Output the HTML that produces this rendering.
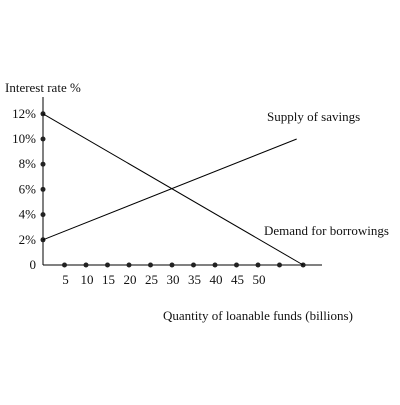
<!DOCTYPE html>
<html><head><style>
body{margin:0;background:#fff}
svg text{font-family:"Liberation Serif",serif;font-size:13px;fill:#111}
</style></head><body>
<svg width="400" height="400">
<text x="5" y="92">Interest rate %</text>
<text x="163" y="320">Quantity of loanable funds (billions)</text>
<g id="g"></g>
</svg>
<script>
const yTicks=[0,2,4,6,8,10,12];
const yLabels=["0","2%","4%","6%","8%","10%","12%"];
const xTicks=[5,10,15,20,25,30,35,40,45,50];
const xDots=[5,10,15,20,25,30,35,40,45,50,55,60.5];
const supplyX=[0,59];const supplyY=[2,10];
const demandX=[0,60.5];const demandY=[12,0];
const sx=v=>43+v*4.3, sy=v=>265-v*12.6;
const g=document.getElementById('g'),NS="http://www.w3.org/2000/svg";
function mk(t,a){const e=document.createElementNS(NS,t);for(const k in a)e.setAttribute(k,a[k]);g.appendChild(e);return e;}
let e=mk('line',{x1:43,y1:97,x2:43,y2:265,stroke:'#000'});


e=mk('line',{x1:43,y1:265,x2:322,y2:265,stroke:'#000'});


yTicks.forEach((v,i)=>{
 const t=mk('text',{x:36,y:sy(v)+4,'text-anchor':'end'});t.textContent=yLabels[i];
 
 
 if(v>0){const c=mk('circle',{cx:43,cy:sy(v),r:2.5,fill:'#222'});
 
 }
});
xTicks.forEach(v=>{
 const t=mk('text',{x:sx(v)+1,y:284,'text-anchor':'middle'});t.textContent=v;
 
 
});
xDots.forEach(v=>{
 const c=mk('circle',{cx:sx(v),cy:265,r:2.5,fill:'#222'});
 
 
});
e=mk('line',{x1:sx(supplyX[0]),y1:sy(supplyY[0]),x2:sx(supplyX[1]),y2:sy(supplyY[1]),stroke:'#000'});


e=mk('line',{x1:sx(demandX[0]),y1:sy(demandY[0]),x2:sx(demandX[1]),y2:sy(demandY[1]),stroke:'#000'});


let t=mk('text',{x:267,y:121});t.textContent='Supply of savings';


t=mk('text',{x:264,y:235});t.textContent='Demand for borrowings';


</script>
</body></html>
